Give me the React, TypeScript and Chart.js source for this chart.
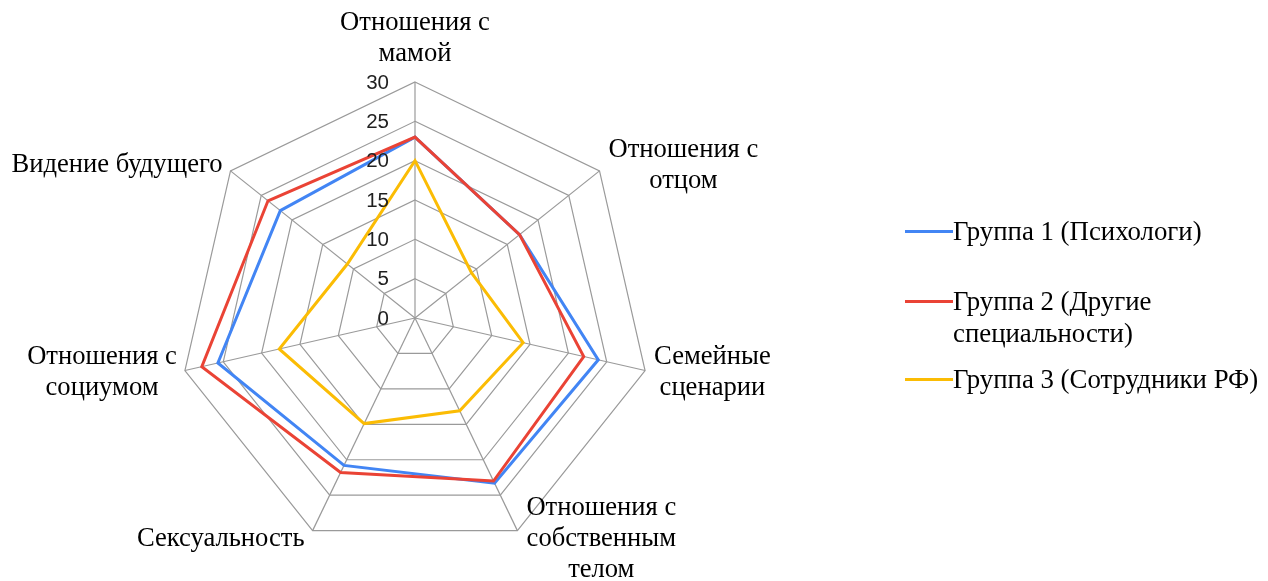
import React, { useEffect, useRef } from "react";
import { Chart, registerables } from "chart.js";

Chart.register(...registerables);

// ---- Data ----
const categories: string[][] = [
  ["Отношения с", "мамой"],
  ["Отношения с", "отцом"],
  ["Семейные", "сценарии"],
  ["Отношения с", "собственным", "телом"],
  ["Сексуальность"],
  ["Отношения с", "социумом"],
  ["Видение будущего"],
];

const group1Values = [23, 17, 23.9, 23.3, 20.8, 25.7, 21.9];
const group2Values = [23, 17, 22, 23, 21.8, 27.8, 23.9];
const group3Values = [20, 9.2, 14.1, 13.1, 14.9, 17.7, 11];

const seriesNames: string[][] = [
  ["Группа 1 (Психологи)"],
  ["Группа 2 (Другие", "специальности)"],
  ["Группа 3 (Сотрудники РФ)"],
];
const seriesColors = ["#4285F4", "#EA4335", "#FBBC04"];

const scaleMin = 0;
const scaleMax = 30;
const scaleStep = 5;

const SERIF = '"Liberation Serif", "Times New Roman", serif';
const SANS = '"Liberation Sans", Arial, sans-serif';

const overlayPlugin = {
  id: "overlayLabels",
  afterDraw(chart: any) {
    const scale = chart.scales.r;
    const ctx = chart.ctx as CanvasRenderingContext2D;
    ctx.save();
    // tick labels, right-aligned left of the vertical axis
    ctx.font = `20.5px ${SANS}`;
    ctx.fillStyle = "#1f1f1f";
    ctx.textAlign = "right";
    ctx.textBaseline = "middle";
    scale.ticks.forEach((t: any) => {
      const d = scale.getDistanceFromCenterForValue(t.value);
      ctx.fillText(String(t.label), scale.xCenter - 26, scale.yCenter - d + 1);
    });
    // point labels
    ctx.font = `26.6px ${SERIF}`;
    ctx.fillStyle = "#000";
    ctx.textBaseline = "middle";
    ctx.textAlign = "center";
    const lh = 31;
    categories.forEach((lines, i) => {
      const p = scale.getPointPosition(i, scale.drawingArea);
      const a = scale.getIndexAngle(i);
      const s = Math.sin(a);
      const c = Math.cos(a);
      const H = lines.length * lh;
      const bw = Math.max(...lines.map((l) => ctx.measureText(l).width));
      let cx: number;
      let top: number;
      if (Math.abs(s) < 0.05) {
        cx = p.x;
        top = p.y - 12 - H;
      } else {
        cx = s > 0 ? p.x + 9 + bw / 2 : p.x - 8 - bw / 2;
        top = p.y - 9 * c - H / 2;
      }
      lines.forEach((l, k) => ctx.fillText(l, cx, top + lh * (k + 0.5)));
    });
    ctx.restore();
  },
};

const legendTops = [215, 285, 363];

export default function App() {
  const canvasRef = useRef<HTMLCanvasElement | null>(null);

  useEffect(() => {
    if (!canvasRef.current) return;
    const seriesValues = [group1Values, group2Values, group3Values];
    const chart = new Chart(canvasRef.current, {
      type: "radar",
      data: {
        labels: categories,
        datasets: seriesValues.map((vals, i) => ({
          label: seriesNames[i].join(" "),
          data: vals,
          borderColor: seriesColors[i],
          backgroundColor: "transparent",
          borderWidth: 3,
          pointRadius: 0,
          pointHoverRadius: 0,
          fill: false,
          tension: 0,
          order: i === 1 ? 0 : i === 0 ? 1 : 2,
        })),
      },
      options: {
        responsive: false,
        animation: false,
        events: [],
        layout: { padding: { left: 179, top: 82, right: 617, bottom: 27 } },
        plugins: {
          legend: { display: false },
          tooltip: { enabled: false },
        },
        scales: {
          r: {
            min: scaleMin,
            max: scaleMax,
            beginAtZero: true,
            ticks: { stepSize: scaleStep, display: false },
            grid: { color: "#9a9a9a", lineWidth: 1.2 },
            angleLines: { color: "#9a9a9a", lineWidth: 1.2 },
            pointLabels: { display: false },
          },
        },
      },
      plugins: [overlayPlugin],
    });
    return () => chart.destroy();
  }, []);

  return (
    <div style={{ position: "absolute", left: 0, top: 0, width: 1268, height: 581, background: "#fff" }}>
      <canvas ref={canvasRef} width={1268} height={581} style={{ width: 1268, height: 581, display: "block" }} />
      {seriesNames.map((lines, i) => (
        <div
          key={i}
          style={{
            position: "absolute",
            left: 905,
            top: legendTops[i],
            display: "flex",
            alignItems: "flex-start",
            fontFamily: SERIF,
            fontSize: 26.8,
            lineHeight: "32px",
            color: "#000",
            whiteSpace: "nowrap",
          }}
        >
          <div style={{ width: 48, height: 3, background: seriesColors[i], marginTop: 15 }} />
          <div>
            {lines.map((l, k) => (
              <div key={k}>{l}</div>
            ))}
          </div>
        </div>
      ))}
    </div>
  );
}
